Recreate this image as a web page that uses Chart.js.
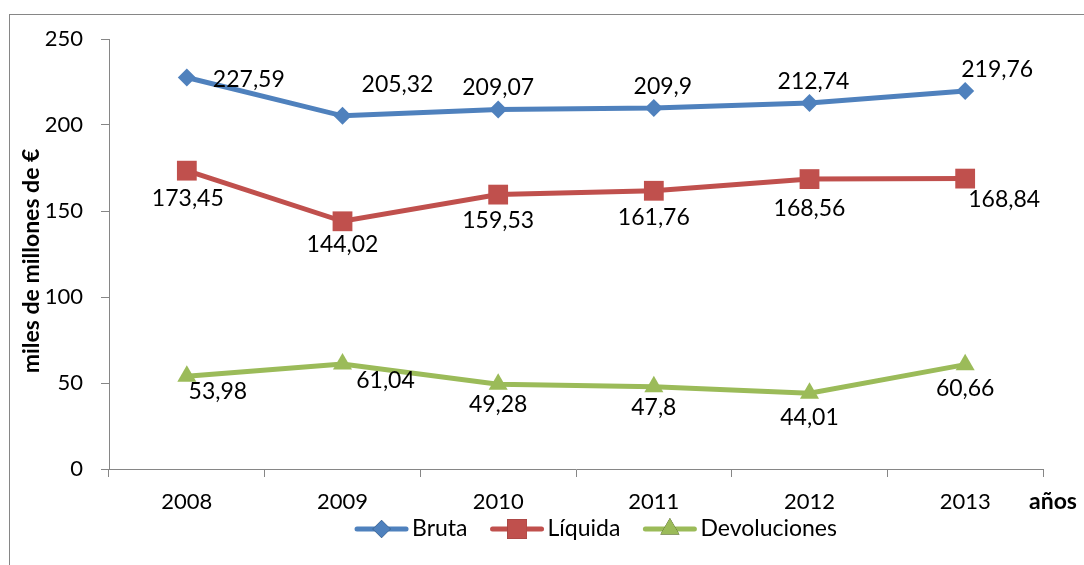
<!DOCTYPE html>
<html>
<head>
<meta charset="utf-8">
<script src="https://cdn.jsdelivr.net/npm/chart.js@4.4.0/dist/chart.umd.min.js"></script>
<style>
  html, body { margin: 0; padding: 0; background: #ffffff; }
  canvas { display: block; }
</style>
</head>
<body>
<canvas id="c" width="1084" height="565"></canvas>
<script>
// ---- data ----
const years = ['2008', '2009', '2010', '2011', '2012', '2013'];
const bruta = [227.59, 205.32, 209.07, 209.9, 212.74, 219.76];
const liquida = [173.45, 144.02, 159.53, 161.76, 168.56, 168.84];
const devoluciones = [53.98, 61.04, 49.28, 47.8, 44.01, 60.66];
const seriesNames = ['Bruta', 'Líquida', 'Devoluciones'];
const yTicks = [0, 50, 100, 150, 200, 250];
const yTitle = 'miles de millones de €';
const xTitle = 'años';

// ---- styles ----
const colors = ['#4F81BD', '#C0504D', '#9BBB59'];
const markers = ['rectRot', 'rect', 'triangle'];
const markerRadius = [9, 14, 11];
const FONT = 'Lato, "Open Sans", sans-serif';
const axisGrey = '#868686';
// label offsets (dx, dy) relative to each point, per series
const labelOffsets = [
  [[62, 2], [55, -31], [0, -22], [9, -21], [4, -22], [32, -21]],
  [[1, 28], [0, 23], [0, 26], [0, 27], [0, 30], [39, 21]],
  [[31, 15], [43, 17], [0, 20], [0, 21], [0, 24], [0, 24]]
];

function fmt(v) { return String(v).replace('.', ','); }

const decorPlugin = {
  id: 'decor',
  beforeDraw(chart) {
    const ctx = chart.ctx;
    ctx.save();
    ctx.fillStyle = '#ffffff';
    ctx.fillRect(0, 0, chart.width, chart.height);
    ctx.strokeStyle = axisGrey;
    ctx.lineWidth = 1;
    ctx.strokeRect(9.5, 14.5, chart.width + 20, chart.height + 20);
    ctx.restore();
  },
  afterDatasetsDraw(chart) {
    const ctx = chart.ctx;
    ctx.save();
    ctx.font = '23px ' + FONT;
    ctx.fillStyle = '#000000';
    ctx.textAlign = 'center';
    ctx.textBaseline = 'middle';
    chart.data.datasets.forEach((ds, di) => {
      const meta = chart.getDatasetMeta(di);
      meta.data.forEach((pt, i) => {
        const off = labelOffsets[di][i];
        ctx.fillText(fmt(ds.data[i]), pt.x + off[0], pt.y + off[1]);
      });
    });
    ctx.restore();
  },
  afterDraw(chart) {
    const ctx = chart.ctx;
    const area = chart.chartArea;
    ctx.save();
    // y axis title
    ctx.font = 'bold 23px ' + FONT;
    ctx.fillStyle = '#000000';
    ctx.textAlign = 'center';
    ctx.textBaseline = 'middle';
    ctx.translate(32, (area.top + area.bottom) / 2 + 7);
    ctx.rotate(-Math.PI / 2);
    ctx.fillText(yTitle, 0, 0);
    ctx.restore();

    // x axis title
    ctx.save();
    ctx.font = 'bold 23px ' + FONT;
    ctx.fillStyle = '#000000';
    ctx.textAlign = 'left';
    ctx.textBaseline = 'middle';
    ctx.fillText(xTitle, area.right - 14, 502);
    ctx.restore();

    // legend
    ctx.save();
    ctx.font = '23px ' + FONT;
    const lineLen = 53, gapText = 4, gapItem = 23;
    let total = 0;
    seriesNames.forEach((n, i) => {
      total += lineLen + gapText + ctx.measureText(n).width;
      if (i < seriesNames.length - 1) total += gapItem;
    });
    let x = 596 - total / 2;
    const y = 529;
    seriesNames.forEach((n, i) => {
      ctx.strokeStyle = colors[i];
      ctx.lineWidth = 5;
      ctx.lineCap = 'round';
      ctx.beginPath();
      ctx.moveTo(x + 2, y);
      ctx.lineTo(x + lineLen - 2, y);
      ctx.stroke();
      Chart.helpers.drawPoint(ctx, {
        pointStyle: markers[i], radius: markerRadius[i], borderWidth: 0, rotation: 0
      }, x + lineLen / 2, y);
      ctx.fillStyle = colors[i];
      ctx.fill();
      ctx.fillStyle = '#000000';
      ctx.textAlign = 'left';
      ctx.textBaseline = 'middle';
      ctx.fillText(n, x + lineLen + gapText, y);
      x += lineLen + gapText + ctx.measureText(n).width + gapItem;
    });
    ctx.restore();
  }
};

const datasets = [bruta, liquida, devoluciones].map((arr, i) => ({
  label: seriesNames[i],
  data: arr,
  borderColor: colors[i],
  backgroundColor: colors[i],
  borderWidth: 5,
  pointStyle: markers[i],
  pointRadius: markerRadius[i],
  pointHoverRadius: markerRadius[i],
  pointBackgroundColor: colors[i],
  pointBorderColor: colors[i],
  pointBorderWidth: 0,
  tension: 0,
  fill: false
}));

new Chart(document.getElementById('c'), {
  type: 'line',
  data: { labels: years, datasets },
  options: {
    responsive: false,
    devicePixelRatio: 1,
    animation: false,
    events: [],
    layout: { padding: { top: 39, right: 41, left: 0, bottom: 0 } },
    plugins: {
      legend: { display: false },
      tooltip: { enabled: false },
      title: { display: false }
    },
    scales: {
      x: {
        type: 'category',
        offset: true,
        grid: { offset: true, drawOnChartArea: false, drawTicks: true, tickLength: 8, color: axisGrey, lineWidth: 1 },
        border: { color: axisGrey, width: 1 },
        ticks: { color: '#000000', font: { family: FONT, size: 22 }, padding: 12, maxRotation: 0, autoSkip: false },
        afterFit: s => { s.height = 96; }
      },
      y: {
        min: yTicks[0],
        max: yTicks[yTicks.length - 1],
        afterBuildTicks: s => { s.ticks = yTicks.map(v => ({ value: v })); },
        grid: { drawOnChartArea: false, drawTicks: true, tickLength: 8, color: axisGrey, lineWidth: 1 },
        border: { color: axisGrey, width: 1 },
        ticks: { color: '#000000', font: { family: FONT, size: 22 }, padding: 18 },
        afterFit: s => { s.width = 109; }
      }
    }
  },
  plugins: [decorPlugin]
});
</script>
</body>
</html>
